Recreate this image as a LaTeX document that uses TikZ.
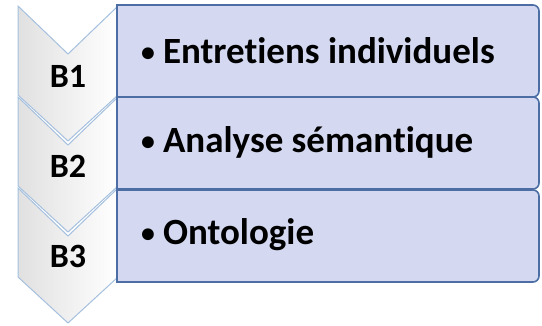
\documentclass[tikz,border=0pt]{standalone}
\usepackage{fontspec}
\setmainfont[Ligatures=NoCommon]{Carlito}
\definecolor{boxfill}{RGB}{212,217,241}
\definecolor{boxline}{RGB}{76,110,165}
\definecolor{chevline}{RGB}{165,192,222}
\tikzset{
  chev/.style={draw=chevline, line width=1pt, left color=black!12, right color=white, line join=miter},
  stepbox/.style={draw=boxline, line width=1.6pt, fill=boxfill},
  blabel/.style={font=\bfseries\fontsize{34}{34}\selectfont, inner sep=0pt},
  itemtext/.style={font=\bfseries\fontsize{37}{37}\selectfont, inner sep=0pt, anchor=west},
}
\newcommand{\mybul}{\raisebox{0.05em}{\scalebox{0.75}{•}}\hspace{8pt}}
\begin{document}
\begin{tikzpicture}[x=1pt,y=-1pt]
\useasboundingbox (0,0) rectangle (542,326);
% chevrons, drawn bottom first
\foreach \t/\n in {188/3,97/2,6/1}{
  \path[chev] (18,\t) -- (68,\t+48) -- (118,\t) -- (118,\t+89) -- (68,\t+135) -- (18,\t+89) -- cycle;
}
% boxes
\path[stepbox] (117,282) -- (117,190) [rounded corners=6] -- (539,190) -- (539,282) [sharp corners] -- cycle;
\path[stepbox] (117,189) -- (117,97) [rounded corners=6] -- (539,97) -- (539,189) [sharp corners] -- cycle;
\path[stepbox] (117,97) -- (117,5) [rounded corners=6] -- (539,5) -- (539,97) [sharp corners] -- cycle;
% labels
\node[blabel] (b1) at (68,76) {B1};
\node[blabel] (b2) at (68,166) {B2};
\node[blabel] (b3) at (68,256) {B3};
\node[itemtext] (t1) at (141,51) {\mybul Entretiens individuels};
\node[itemtext] (t2) at (141,142) {\mybul Analyse sémantique};
\node[itemtext] (t3) at (141,235) {\mybul Ontologie};
\end{tikzpicture}
\end{document}
